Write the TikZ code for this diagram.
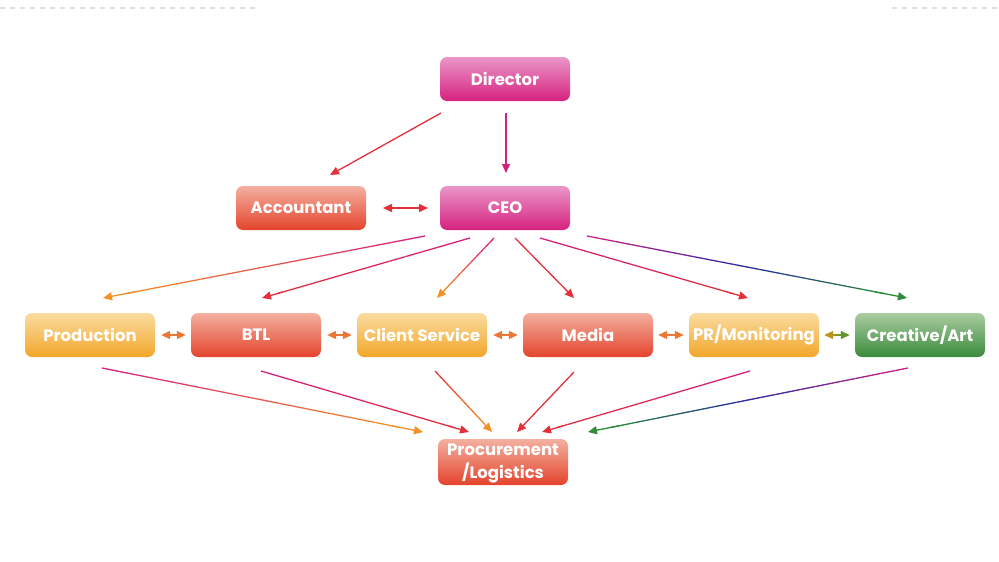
\documentclass[tikz,border=0pt]{standalone}
\usepackage{fontspec}
\setmainfont{Poppins}
\usetikzlibrary{calc,arrows.meta}
\definecolor{cMag}{RGB}{214,30,128}
\definecolor{cRed}{RGB}{228,48,58}
\definecolor{cOra}{RGB}{242,145,40}
\definecolor{cDbl}{RGB}{236,118,52}
\definecolor{cBlu}{RGB}{40,40,165}
\definecolor{cGrn}{RGB}{45,140,55}
\definecolor{cOli}{RGB}{185,150,30}
\definecolor{cGrn2}{RGB}{95,150,45}
\tikzset{
  box/.style={rounded corners=7pt, minimum width=130pt, minimum height=44pt, inner sep=0pt,
    text=white, font=\fontsize{16.5}{23}\selectfont\bfseries, align=center},
  magbox/.style={box, top color={rgb,255:red,234;green,150;blue,200}, bottom color={rgb,255:red,214;green,34;blue,126}},
  redbox/.style={box, top color={rgb,255:red,243;green,176;blue,160}, bottom color={rgb,255:red,228;green,68;blue,44}},
  orabox/.style={box, top color={rgb,255:red,250;green,220;blue,160}, bottom color={rgb,255:red,242;green,166;blue,42}},
  grnbox/.style={box, top color={rgb,255:red,170;green,205;blue,160}, bottom color={rgb,255:red,58;green,138;blue,60}},
  tip/.style={-{Triangle[length=9pt,width=8pt]}},
  dtip/.style={{Triangle[length=9pt,width=8pt]}-{Triangle[length=9pt,width=8pt]}},
  conn/.style={line width=1.3pt},
}
% gradient segment between fractions #3 and #4 of line #1--#2, colours #5 -> #6
\newcommand{\gseg}[6]{%
  \foreach \i in {0,...,11}{%
    \pgfmathsetmacro\ta{#3+(#4-#3)*\i/12}%
    \pgfmathsetmacro\tb{#3+(#4-#3)*(\i+1)/12}%
    \pgfmathtruncatemacro\pp{100-(\i+0.5)*100/12}%
    \draw[conn, line cap=butt, color=#5!\pp!#6] ($(#1)!\ta!(#2)$) -- ($(#1)!\tb!(#2)$);
  }%
}
\newcommand{\garrow}[4]{%
  \gseg{#1}{#2}{0}{0.93}{#3}{#4}%
  \draw[conn, tip, #4] ($(#1)!0.9!(#2)$) -- (#2);
}
\newcommand{\gtarrow}[5]{%
  \gseg{#1}{#2}{0}{0.5}{#3}{#4}%
  \gseg{#1}{#2}{0.5}{0.93}{#4}{#5}%
  \draw[conn, tip, #5] ($(#1)!0.9!(#2)$) -- (#2);
}
\begin{document}
\begin{tikzpicture}[x=1pt,y=-1pt]
\useasboundingbox (0,0) rectangle (999,562);
% dashed rules
\draw[gray!25, line width=1.5pt, dash pattern=on 5pt off 5pt] (0,8) -- (258,8);
\draw[gray!25, line width=1.5pt, dash pattern=on 5pt off 5pt] (892,8) -- (999,8);

% nodes
\node[magbox] (dir) at (505,79) {Director};
\node[redbox] (acc) at (301,208) {Accountant};
\node[magbox] (ceo) at (505,208) {CEO};
\node[orabox] (prod) at (90,335) {Production};
\node[redbox] (btl) at (256,335) {BTL};
\node[orabox] (cli) at (422,335) {Client Service};
\node[redbox] (med) at (588,335) {Media};
\node[orabox] (pr) at (754,335) {PR/Monitoring};
\node[grnbox] (cre) at (920,335) {Creative/Art};
\node[redbox, minimum height=45pt] (proc) at (503,462) {\raisebox{-3pt}{\begin{tabular}{@{}c@{}}Procurement\\/Logistics\end{tabular}}};

% connector end points
\coordinate (dA) at (441,113); \coordinate (accT) at (330,175);
\coordinate (dB) at (506,113); \coordinate (ceoT) at (506,173);
\coordinate (accR) at (383,208); \coordinate (ceoL) at (428,208);
\coordinate (c1) at (425,236); \coordinate (prodT) at (103,298);
\coordinate (c2) at (470,238); \coordinate (btlT) at (262,298);
\coordinate (c3) at (494,238); \coordinate (cliT) at (437,298);
\coordinate (c4) at (515,238); \coordinate (medT) at (574,298);
\coordinate (c5) at (540,238); \coordinate (prT) at (748,298);
\coordinate (c6) at (587,236); \coordinate (creT) at (907,298);
\coordinate (prodB) at (102,368); \coordinate (p1) at (423,432);
\coordinate (btlB) at (261,371); \coordinate (p2) at (469,432);
\coordinate (cliB) at (435,371); \coordinate (p3) at (492,432);
\coordinate (medB) at (574,372); \coordinate (p4) at (517,432);
\coordinate (prB) at (750,371); \coordinate (p5) at (542,432);
\coordinate (creB) at (908,368); \coordinate (p6) at (588,432);

% top connectors
\draw[conn, tip, cRed] (dA) -- (accT);
\draw[conn, tip, cMag] (dB) -- (ceoT);
\draw[conn, dtip, cRed] (accR) -- (ceoL);

% CEO fan-out
\garrow{c1}{prodT}{cMag}{cOra}
\garrow{c2}{btlT}{cMag}{cRed}
\garrow{c3}{cliT}{cMag}{cOra}
\draw[conn, tip, cRed] (c4) -- (medT);
\garrow{c5}{prT}{cMag}{cRed}
\gtarrow{c6}{creT}{cMag}{cBlu}{cGrn}

% row double arrows
\draw[conn, dtip, cDbl] ([xshift=6pt]prod.east) -- ([xshift=-5pt]btl.west);
\draw[conn, dtip, cDbl] ([xshift=6pt]btl.east) -- ([xshift=-5pt]cli.west);
\draw[conn, dtip, cDbl] ([xshift=6pt]cli.east) -- ([xshift=-5pt]med.west);
\draw[conn, dtip, cDbl] ([xshift=5pt]med.east) -- ([xshift=-5pt]pr.west);
\coordinate (prR) at ([xshift=5pt]pr.east);
\coordinate (creL) at ([xshift=-5pt]cre.west);
\gseg{prR}{creL}{0.3}{0.7}{cOli}{cGrn2}
\draw[conn, tip, cOli] ($(prR)!0.35!(creL)$) -- (prR);
\draw[conn, tip, cGrn2] ($(prR)!0.65!(creL)$) -- (creL);

% row to procurement
\garrow{prodB}{p1}{cMag}{cOra}
\garrow{btlB}{p2}{cMag}{cRed}
\garrow{cliB}{p3}{cRed}{cOra}
\draw[conn, tip, cRed] (medB) -- (p4);
\garrow{prB}{p5}{cMag}{cRed}
\gtarrow{creB}{p6}{cMag}{cBlu}{cGrn}
\end{tikzpicture}
\end{document}
